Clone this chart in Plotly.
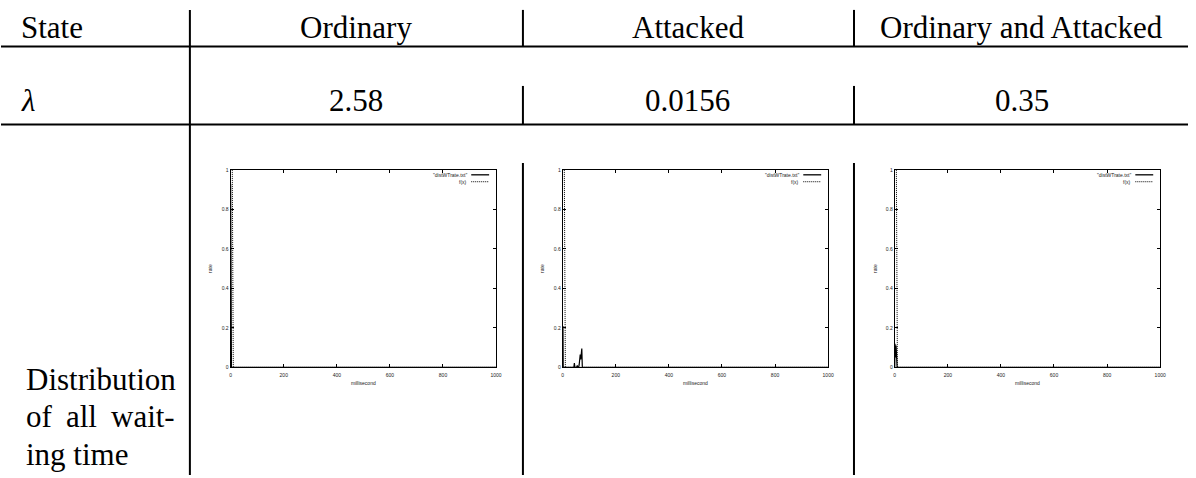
import plotly.graph_objects as go

W, H = 1196, 478

# Table text
states = ["Ordinary", "Attacked", "Ordinary and Attacked"]
lambdas = ["2.58", "0.0156", "0.35"]
row_labels = ["State", "λ"]

# Measured waiting-time rate per millisecond bin ("distWTrate.txt")
ord_ms = [0, 1, 2, 3, 5, 10, 1000]
ord_rate = [0.93, 0.06, 0.01, 0.0, 0.0, 0.0, 0.0]

att_ms = [0, 1, 2, 40, 42, 44, 46, 52, 55, 57, 60, 62, 64, 66, 68, 70, 72, 74, 76, 1000]
att_rate = [0.0, 0.21, 0.0, 0.0, 0.0, 0.022, 0.0, 0.0, 0.01, 0.0, 0.0, 0.012, 0.03, 0.065,
            0.04, 0.066, 0.095, 0.0, 0.0, 0.0]

mix_ms = [0, 1, 3, 5, 7, 9, 1000]
mix_rate = [0.0, 0.12, 0.05, 0.11, 0.02, 0.0, 0.0]

# Fitted curve f(x) as plotted
fit_ms = [[0, 5, 8, 10, 1000], [0, 5, 8, 10, 1000], [0, 5, 8, 10, 1000]]
fit_val = [[2.6, 1.0, 0.38, 0.0, 0.0], [2.6, 1.0, 0.38, 0.0, 0.0], [2.6, 1.0, 0.38, 0.0, 0.0]]

x_ticks = [0, 200, 400, 600, 800, 1000]
y_ticks = [0, 0.2, 0.4, 0.6, 0.8, 1]
y_ticktext = ["0", "0.2", "0.4", "0.6", "0.8", "1"]

series_ms = [ord_ms, att_ms, mix_ms]
series_rate = [ord_rate, att_rate, mix_rate]

# pixel layout helpers
def px(x):
    return x / W

def py(y):
    return 1 - y / H

plot_left = [231, 565, 899]
plot_w = 267
plot_top, plot_bottom = 169, 369

serif = "Times New Roman, Liberation Serif, Times, serif"
sans = "Liberation Sans, Arial, Helvetica, sans-serif"
fine_dots = "1px,1px"

fig = go.Figure()
layout = dict(
    width=W, height=H, margin=dict(l=0, r=0, t=0, b=0),
    paper_bgcolor="white", plot_bgcolor="white", showlegend=False,
)

shapes = []
annotations = []

for i in range(3):
    xa = "x" if i == 0 else f"x{i+1}"
    ya = "y" if i == 0 else f"y{i+1}"
    fig.add_trace(go.Scatter(x=series_ms[i], y=series_rate[i], mode="lines",
                             line=dict(color="black", width=1.2), xaxis=xa, yaxis=ya,
                             hoverinfo="skip"))
    fig.add_trace(go.Scatter(x=fit_ms[i], y=fit_val[i], mode="lines",
                             line=dict(color="black", width=1, dash=fine_dots), xaxis=xa, yaxis=ya,
                             hoverinfo="skip"))
    axis_common = dict(
        ticks="inside", ticklen=3, tickwidth=0.8, tickcolor="black",
        mirror="allticks", showline=True, linecolor="black", linewidth=1,
        showgrid=False, zeroline=False,
        tickfont=dict(family=sans, size=5, color="#222"),
    )
    layout["xaxis" if i == 0 else f"xaxis{i+1}"] = dict(
        domain=[px(plot_left[i]), px(plot_left[i] + plot_w)], anchor=ya,
        range=[0, 1000], tickvals=x_ticks, ticklabelstandoff=3,
        title=dict(text="millisecond", font=dict(family=sans, size=5, color="#222"), standoff=4),
        **axis_common)
    layout["yaxis" if i == 0 else f"yaxis{i+1}"] = dict(
        domain=[py(plot_bottom), py(plot_top)], anchor=xa,
        range=[0, 1], tickvals=y_ticks, ticktext=y_ticktext,
        title=dict(text="rate", font=dict(family=sans, size=5, color="#222"), standoff=8),
        **axis_common)

    # key in the upper right corner of each panel
    xr = plot_left[i] + plot_w
    for label, dash, yy in [('"distWTrate.txt"', "solid", 174), ("f(x)", fine_dots, 181)]:
        annotations.append(dict(xref="paper", yref="paper", x=px(xr - 27), y=py(yy),
                                xanchor="right", yanchor="middle", showarrow=False,
                                text=label, font=dict(family=sans, size=5, color="#222")))
        shapes.append(dict(type="line", xref="paper", yref="paper",
                           x0=px(xr - 25), x1=px(xr - 7), y0=py(yy), y1=py(yy),
                           line=dict(color="black", width=1.3 if dash == "solid" else 1, dash=dash)))

# table rules
for yy in [44, 123]:
    shapes.append(dict(type="line", xref="paper", yref="paper", x0=0, x1=px(1194),
                       y0=py(yy), y1=py(yy), line=dict(color="black", width=2)))
shapes.append(dict(type="line", xref="paper", yref="paper", x0=px(190), x1=px(190),
                   y0=py(7), y1=0, line=dict(color="black", width=2)))
for xx in [525, 858]:
    for (a, b) in [(7, 44), (84, 123), (162, 478)]:
        shapes.append(dict(type="line", xref="paper", yref="paper", x0=px(xx), x1=px(xx),
                           y0=py(a), y1=py(b), line=dict(color="black", width=2)))

col_centers = [357, 691, 1027]
tf = dict(family=serif, size=31, color="black")

annotations.append(dict(xref="paper", yref="paper", x=px(18), y=py(25), xanchor="left",
                        yanchor="middle", showarrow=False, text=row_labels[0], font=tf))
annotations.append(dict(xref="paper", yref="paper", x=px(18), y=py(99), xanchor="left",
                        yanchor="middle", showarrow=False, text="<i>" + row_labels[1] + "</i>", font=tf))
for c, s, l in zip(col_centers, states, lambdas):
    annotations.append(dict(xref="paper", yref="paper", x=px(c), y=py(25), xanchor="center",
                            yanchor="middle", showarrow=False, text=s, font=tf))
    annotations.append(dict(xref="paper", yref="paper", x=px(c), y=py(99), xanchor="center",
                            yanchor="middle", showarrow=False, text=l, font=tf))

# justified paragraph in the first column
para = [("Distribution", 23, 381, "left"), ("of", 23, 419, "left"), ("all", 63, 419, "left"),
        ("wait-", 177, 419, "right"), ("ing time", 23, 457, "left")]
for t, x, y, anc in para:
    annotations.append(dict(xref="paper", yref="paper", x=px(x), y=py(y), xanchor=anc,
                            yanchor="middle", showarrow=False, text=t, font=tf))

layout["shapes"] = shapes
layout["annotations"] = annotations
fig.update_layout(**layout)
fig.write_html("out.html")
